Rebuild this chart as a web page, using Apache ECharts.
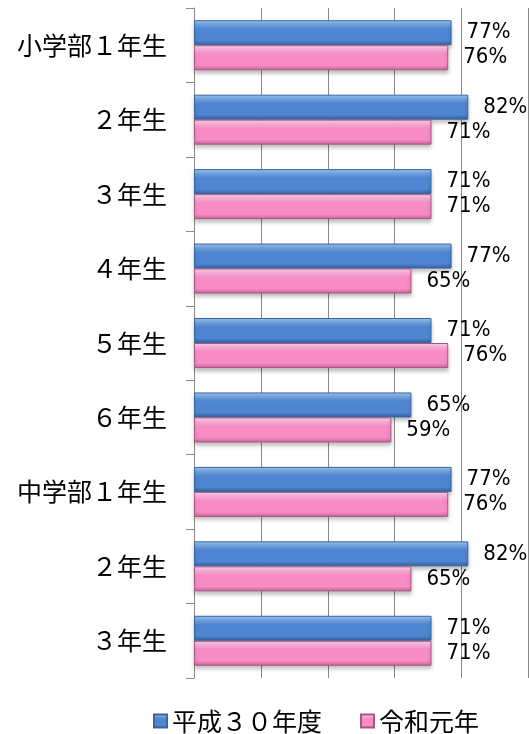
<!DOCTYPE html>
<html>
<head>
<meta charset="utf-8">
<script src="https://cdn.jsdelivr.net/npm/echarts@6/dist/echarts.min.js"></script>
<style>
  html, body { margin: 0; padding: 0; background: #fff; }
  #r-canvas { width: 529px; height: 734px; }
</style>
</head>
<body>
<div id="r-canvas"></div>
<script>
var grades = ['小学部１年生', '２年生', '３年生', '４年生', '５年生', '６年生', '中学部１年生', '２年生', '３年生']
var seriesNames = ['平成３０年度', '令和元年']
var h30Values = [77, 82, 71, 77, 71, 65, 77, 82, 71]   // 平成３０年度
var r1Values = [76, 71, 71, 65, 76, 59, 76, 65, 71]    // 令和元年

var myChart = echarts.init(document.getElementById('r-canvas'))

// 立体っぽいグラデーション
function bevel (top, mid, bottom) {
  return new echarts.graphic.LinearGradient(0, 0, 0, 1, [
    {offset: 0, color: top},
    {offset: 0.35, color: mid},
    {offset: 0.8, color: mid},
    {offset: 1, color: bottom}
  ])
}

var cjkFont = '"Noto Sans CJK JP", "Noto Sans", sans-serif'
var numFont = '"Liberation Sans Narrow", "DejaVu Sans Condensed", "Liberation Sans", sans-serif'

var valueLabel = {
  show: true,
  position: 'right',
  distance: 15,
  formatter: '{c}%',
  color: '#000',
  fontFamily: numFont,
  fontSize: 22
}

var option = {
  animation: false,
  grid: {left: 194, right: 0.5, top: 8, bottom: 56, containLabel: false},
  legend: {
    top: 708,
    left: 153,
    padding: 0,
    icon: 'rect',
    itemWidth: 13,
    itemHeight: 13,
    itemGap: 38,
    textStyle: {fontFamily: cjkFont, fontSize: 25, lineHeight: 26, color: '#000'},
    data: seriesNames
  },
  xAxis: {
    type: 'value',
    min: 0,
    max: 100,
    interval: 20,
    axisLine: {show: false},
    axisTick: {show: false},
    axisLabel: {show: false},
    splitLine: {show: true, lineStyle: {color: '#888', width: 1}}
  },
  yAxis: {
    type: 'category',
    inverse: true,
    data: grades,
    axisLine: {show: true, lineStyle: {color: '#888', width: 1}},
    axisTick: {show: true, length: 8, lineStyle: {color: '#888'}},
    axisLabel: {margin: 27, color: '#000', fontFamily: cjkFont, fontSize: 25}
  },
  series: [
    {
      name: seriesNames[0],
      type: 'bar',
      data: h30Values,
      barWidth: 25,
      barGap: '0%',
      itemStyle: {
        color: bevel('#9cc8f4', '#4f86d2', '#345f9e'),
        borderColor: '#3a64a0',
        borderWidth: 1,
        shadowColor: 'rgba(0,0,0,0.25)',
        shadowBlur: 4,
        shadowOffsetY: 3
      },
      label: valueLabel
    },
    {
      name: seriesNames[1],
      type: 'bar',
      data: r1Values,
      barWidth: 25,
      barGap: '0%',
      itemStyle: {
        color: bevel('#ffd6f2', '#f88cc4', '#c9639a'),
        borderColor: '#a8587f',
        borderWidth: 1,
        shadowColor: 'rgba(0,0,0,0.25)',
        shadowBlur: 4,
        shadowOffsetY: 3
      },
      label: valueLabel
    }
  ]
}

myChart.setOption(option)
</script>
</body>
</html>
